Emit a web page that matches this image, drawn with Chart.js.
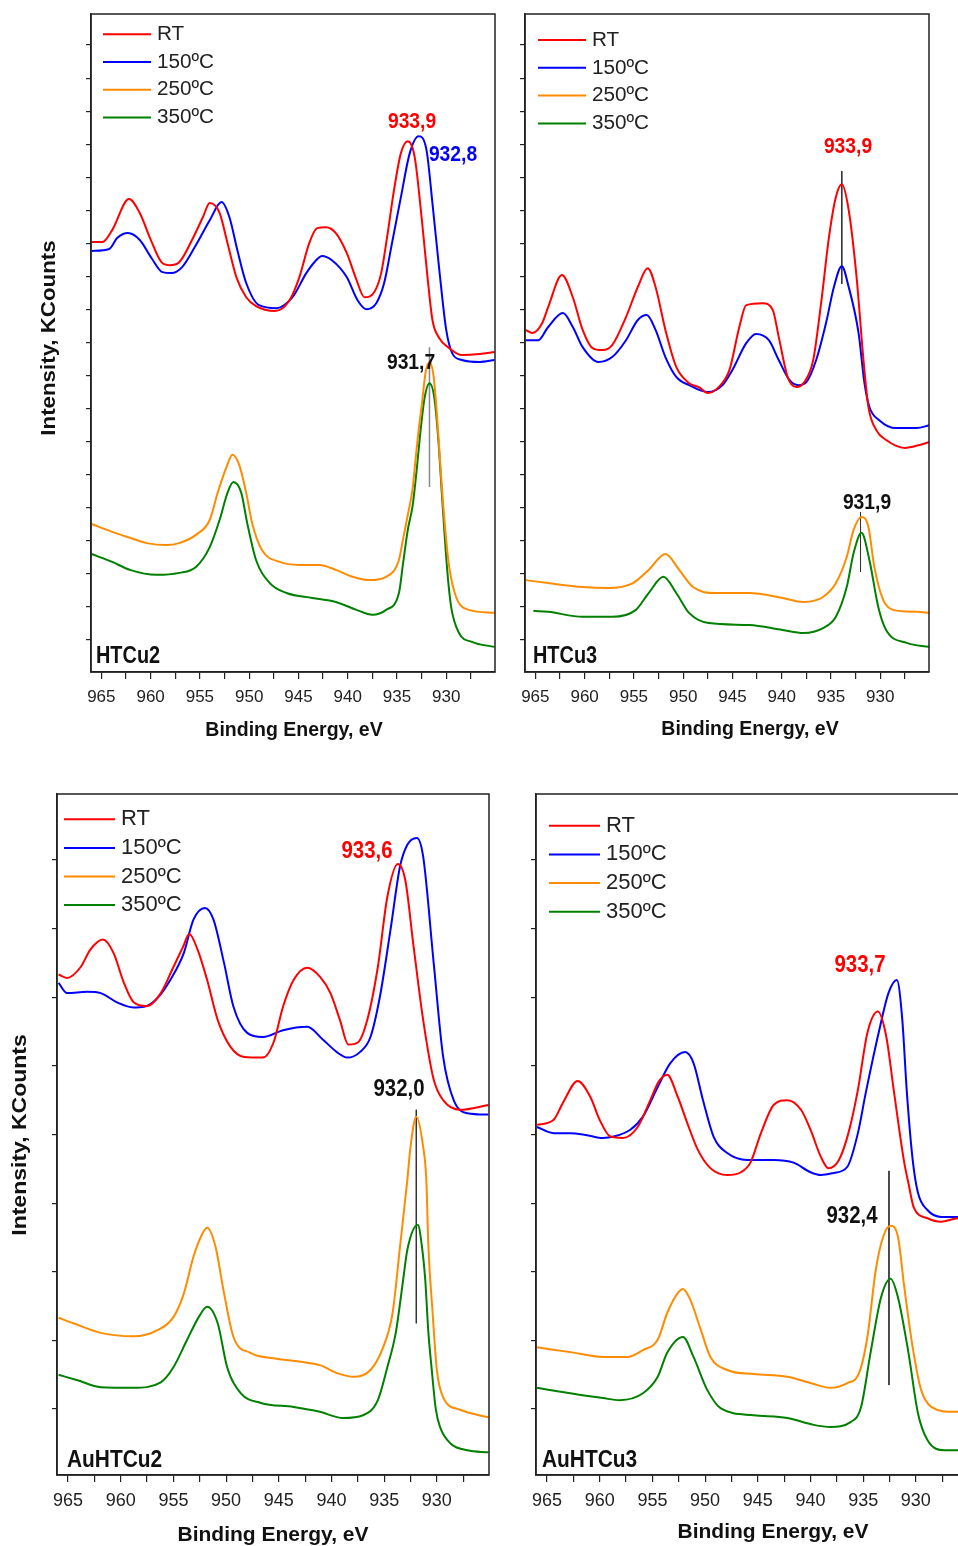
<!DOCTYPE html>
<html>
<head>
<meta charset="utf-8">
<script src="https://cdn.jsdelivr.net/npm/chart.js@4.4.1/dist/chart.umd.min.js"></script>
<style>
  html, body { margin: 0; padding: 0; background: #fff; overflow: hidden; width: 958px; height: 1546px; }
  canvas { position: absolute; }
</style>
</head>
<body>
<canvas id="htcu2" width="500" height="760" style="left:0;top:0"></canvas>
<canvas id="htcu3" width="454" height="760" style="left:480px;top:0"></canvas>
<canvas id="auhtcu2" width="494" height="766" style="left:0;top:780px"></canvas>
<canvas id="auhtcu3" width="482" height="766" style="left:491px;top:780px"></canvas>
<script>
/* =========================
   DATA  [binding energy eV, intensity a.u.]
 ========================= */
const SERIES_LABELS = ['RT', '150ºC', '250ºC', '350ºC'];
const SERIES_COLORS = ['#ff0000', '#0000ff', '#ff8c00', '#008000'];
const E_MIN = 925.05;
const E_MAX = 966.05;

// HTCu2
const htcu2RT = [[966.0,12.04],[964.9,12.04],[963.9,12.40],[962.2,13.34],[961.1,12.92],[960.1,12.19],[958.9,11.43],[958.1,11.34],[957.1,11.43],[955.8,12.10],[954.7,12.79],[954.0,13.22],[953.0,12.92],[952.2,12.01],[951.3,10.98],[950.3,10.37],[949.3,10.10],[947.4,9.95],[945.9,10.28],[944.9,10.98],[943.9,12.01],[943.1,12.46],[942.2,12.49],[941.2,12.31],[940.1,11.71],[939.1,10.89],[938.3,10.37],[937.3,10.53],[936.6,11.10],[936.0,12.19],[935.3,13.61],[934.6,14.73],[933.9,15.09],[933.2,14.61],[932.5,12.79],[931.9,10.98],[931.4,9.68],[930.7,9.13],[929.7,8.83],[928.4,8.62],[926.6,8.65],[925.1,8.71]];
const htcu2C150 = [[966.0,11.77],[964.2,11.83],[963.4,12.16],[962.3,12.31],[961.1,12.10],[959.9,11.55],[958.8,11.13],[957.9,11.10],[956.8,11.28],[955.4,11.95],[954.0,12.70],[952.8,13.25],[952.0,12.79],[951.2,11.80],[950.3,10.80],[949.0,10.13],[947.2,10.04],[945.6,10.37],[944.2,11.10],[943.2,11.49],[942.6,11.62],[941.6,11.49],[940.1,10.98],[939.0,10.28],[938.1,10.01],[937.1,10.19],[936.3,10.80],[935.5,12.01],[934.6,13.40],[933.7,14.73],[932.8,15.24],[932.0,14.82],[931.4,13.22],[930.7,11.19],[930.0,9.38],[929.4,8.68],[928.4,8.47],[926.6,8.41],[925.1,8.47]];
const htcu2C250 = [[966.0,3.51],[963.9,3.27],[962.1,3.09],[960.4,2.93],[958.4,2.87],[957.1,2.93],[955.4,3.18],[954.0,3.63],[953.2,4.45],[952.3,5.23],[951.7,5.60],[951.0,5.29],[950.3,4.45],[949.7,3.54],[948.7,2.72],[946.9,2.36],[944.9,2.27],[942.9,2.27],[941.2,2.12],[939.5,1.91],[937.8,1.81],[936.1,1.91],[934.8,2.42],[934.4,3.02],[933.9,3.78],[933.4,4.60],[933.2,5.20],[932.8,6.35],[932.5,7.05],[932.1,8.08],[931.7,8.41],[931.3,8.02],[931.0,7.05],[930.7,5.75],[930.4,4.45],[930.0,3.02],[929.7,2.21],[929.0,1.30],[927.7,0.91],[925.1,0.82]];
const htcu2C350 = [[966.0,2.60],[963.9,2.36],[962.1,2.12],[959.4,1.97],[957.1,2.03],[955.4,2.21],[954.0,2.81],[953.0,3.63],[952.2,4.45],[951.6,4.78],[950.8,4.45],[950.2,3.54],[949.3,2.42],[947.9,1.72],[946.2,1.42],[943.6,1.27],[941.2,1.15],[939.1,0.91],[937.5,0.76],[936.1,0.91],[934.8,1.42],[934.4,2.27],[933.9,3.33],[933.4,4.08],[933.0,5.14],[932.6,6.35],[932.2,7.32],[931.7,7.77],[931.2,7.32],[930.8,6.05],[930.4,4.23],[929.9,2.12],[929.5,1.00],[928.7,0.21],[927.4,-0.06],[925.1,-0.21]];
const htcu2Marks = [[[931.7, 8.86], [931.7, 4.63]]];
const htcu2Notes = [['933,9', 933.47, 15.67, '#ff0000'], ['932,8', 929.31, 14.67, '#0000ff'], ['931,7', 933.57, 8.38, '#111']];

// HTCu3
const htcu3RT = [[966.0,9.38],[965.3,9.29],[964.3,9.59],[963.7,10.07],[962.3,11.04],[961.2,10.37],[960.2,9.38],[959.2,8.83],[958.2,8.77],[957.2,8.92],[955.8,9.77],[954.6,10.68],[953.6,11.25],[952.8,10.68],[951.8,9.38],[950.7,8.26],[949.4,7.77],[948.4,7.65],[947.5,7.47],[946.4,7.65],[945.3,8.17],[944.3,9.47],[943.6,10.13],[941.9,10.19],[940.9,9.98],[940.3,9.17],[939.4,7.96],[938.5,7.65],[937.7,7.80],[936.8,8.47],[936.0,10.19],[935.2,12.19],[934.5,13.40],[933.9,13.79],[933.2,13.01],[932.4,10.98],[931.7,8.47],[931.2,7.05],[930.4,6.35],[929.4,6.05],[927.5,5.81],[926.0,5.90],[925.0,5.99]];
const htcu3C150 = [[966.0,9.07],[964.7,9.07],[963.7,9.47],[962.2,9.89],[961.2,9.47],[960.2,8.86],[958.6,8.41],[957.2,8.56],[955.8,9.07],[954.6,9.68],[953.7,9.83],[952.8,9.38],[951.8,8.56],[950.7,7.96],[949.4,7.71],[947.5,7.50],[946.0,7.71],[945.0,8.17],[943.6,8.98],[942.6,9.26],[941.3,9.07],[940.3,8.47],[939.2,7.86],[938.3,7.71],[937.5,7.80],[936.5,8.47],[935.5,9.59],[934.7,10.68],[933.9,11.31],[933.2,10.68],[932.2,9.29],[931.6,7.77],[931.1,7.05],[930.1,6.65],[928.4,6.41],[926.3,6.41],[925.0,6.50]];
const htcu3C250 = [[966.0,1.81],[963.7,1.72],[960.2,1.60],[957.6,1.57],[955.1,1.72],[953.5,2.12],[951.8,2.60],[950.4,2.12],[949.0,1.60],[946.7,1.42],[943.3,1.42],[939.9,1.27],[937.8,1.15],[935.8,1.30],[934.5,1.72],[933.4,2.51],[932.7,3.33],[931.9,3.72],[931.2,3.42],[930.6,2.21],[929.7,1.21],[928.7,0.91],[926.3,0.85],[925.0,0.82]];
const htcu3C350 = [[965.2,0.88],[963.7,0.85],[960.2,0.70],[957.2,0.70],[954.8,0.91],[953.5,1.42],[952.0,1.91],[950.7,1.42],[949.4,0.82],[947.4,0.51],[943.3,0.45],[939.9,0.30],[937.8,0.21],[935.8,0.36],[934.5,0.70],[933.4,1.60],[932.7,2.63],[931.9,3.24],[931.1,2.42],[930.2,1.00],[929.4,0.30],[927.3,-0.09],[925.0,-0.21]];
const htcu3Marks = [[[933.9, 14.19], [933.9, 10.77]], [[932.0, 3.87], [932.0, 2.06]]];
const htcu3Notes = [['933,9', 933.27, 14.91, '#ff0000'], ['931,9', 931.34, 4.14, '#111']];

// AuHTCu2
const auhtcu2RT = [[965.9,6.33],[965.1,6.28],[963.8,6.44],[962.9,6.69],[961.7,6.84],[960.7,6.65],[959.7,6.21],[958.8,5.93],[957.5,5.87],[956.2,6.06],[955.0,6.44],[954.1,6.73],[953.5,6.92],[952.7,6.69],[951.8,6.25],[950.8,5.67],[949.6,5.28],[948.3,5.13],[946.5,5.12],[945.5,5.34],[944.6,5.86],[943.6,6.25],[942.3,6.43],[941.1,6.30],[940.1,6.06],[939.2,5.67],[938.4,5.31],[937.5,5.34],[936.6,5.67],[935.6,6.44],[934.7,7.46],[933.7,7.94],[933.0,7.71],[932.2,6.73],[931.3,5.67],[930.3,4.80],[929.4,4.50],[927.8,4.36],[925.1,4.43]];
const auhtcu2C150 = [[965.9,6.21],[965.1,6.06],[963.2,6.08],[961.9,6.06],[960.3,5.92],[958.8,5.85],[957.8,5.86],[956.5,5.99],[955.3,6.25],[954.0,6.65],[953.1,7.13],[952.0,7.30],[951.2,7.13],[950.2,6.50],[949.3,5.86],[948.0,5.48],[946.5,5.42],[944.6,5.52],[942.3,5.57],[940.8,5.38],[939.4,5.19],[938.5,5.12],[937.3,5.20],[936.3,5.42],[935.4,6.01],[934.4,6.98],[933.5,7.90],[932.8,8.22],[931.9,8.32],[931.3,8.05],[930.3,6.50],[929.4,5.13],[928.4,4.50],[927.1,4.31],[925.1,4.29]];
const auhtcu2C250 = [[965.9,1.33],[964.5,1.25],[961.9,1.11],[958.8,1.06],[956.5,1.15],[955.0,1.34],[954.0,1.69],[953.1,2.22],[952.3,2.54],[951.8,2.64],[951.0,2.36],[950.2,1.69],[949.3,1.05],[947.7,0.82],[945.5,0.74],[942.9,0.69],[941.1,0.64],[939.4,0.52],[937.9,0.47],[936.3,0.57],[935.1,0.90],[934.2,1.40],[933.5,2.36],[932.8,3.34],[932.5,3.82],[931.95,4.26],[931.3,3.82],[931.0,3.34],[930.8,2.36],[930.4,1.40],[930.0,0.57],[929.4,0.17],[927.8,-0.01],[925.1,-0.12]];
const auhtcu2C350 = [[965.9,0.50],[964.1,0.42],[961.9,0.32],[958.8,0.31],[956.2,0.39],[955.0,0.61],[953.7,1.01],[952.6,1.34],[951.8,1.49],[950.8,1.25],[949.9,0.61],[948.6,0.23],[946.7,0.09],[943.6,0.03],[941.1,-0.04],[938.9,-0.13],[937.0,-0.09],[935.6,0.13],[934.7,0.61],[933.9,1.11],[933.2,1.88],[932.8,2.32],[931.8,2.68],[931.4,2.35],[931.1,1.88],[930.8,1.11],[930.5,0.60],[930.1,0.00],[929.7,-0.26],[928.7,-0.50],[927.1,-0.60],[925.1,-0.63]];
const auhtcu2Marks = [[[931.95, 4.36], [931.95, 1.25]]];
const auhtcu2Notes = [['933,6', 936.63, 8.13, '#ff0000'], ['932,0', 933.59, 4.65, '#111']];

// AuHTCu3
const auhtcu3RT = [[965.95,4.14],[964.4,4.21],[963.5,4.46],[962.1,4.78],[960.9,4.55],[960.0,4.21],[959.0,3.97],[957.8,3.95],[956.4,4.11],[955.2,4.50],[954.4,4.77],[953.6,4.87],[952.6,4.55],[951.7,4.17],[950.7,3.78],[949.5,3.51],[947.9,3.41],[946.6,3.45],[945.7,3.59],[944.7,4.02],[943.5,4.43],[942.2,4.50],[940.9,4.36],[940.0,4.07],[939.0,3.67],[938.3,3.51],[937.3,3.63],[936.4,4.02],[935.5,4.65],[934.6,5.48],[933.6,5.79],[932.8,5.42],[932.1,4.65],[931.1,3.59],[930.7,3.29],[930.2,2.94],[928.9,2.78],[927.6,2.73],[926.0,2.78],[925.05,2.76]];
const auhtcu3C150 = [[965.95,4.11],[964.4,4.02],[962.8,4.02],[961.2,3.99],[959.7,3.95],[958.7,3.97],[957.1,4.07],[955.9,4.26],[954.5,4.69],[953.3,5.04],[951.9,5.20],[951.1,5.04],[950.2,4.50],[949.2,3.97],[947.9,3.73],[946.0,3.63],[943.5,3.63],[941.6,3.59],[940.0,3.45],[939.0,3.41],[937.8,3.44],[936.5,3.53],[935.5,4.02],[934.75,4.61],[933.4,5.57],[932.6,6.06],[931.8,6.25],[931.3,5.70],[930.85,4.61],[930.3,3.63],[929.8,3.15],[928.9,2.90],[927.6,2.80],[926.0,2.80],[925.05,2.78]];
const auhtcu3C250 = [[965.95,0.90],[962.8,0.83],[959.7,0.76],[957.4,0.76],[955.9,0.86],[954.5,1.01],[953.6,1.40],[952.6,1.69],[952.1,1.75],[951.4,1.59],[950.4,1.15],[949.5,0.76],[947.9,0.57],[945.4,0.51],[942.2,0.47],[940.0,0.38],[938.1,0.31],[936.5,0.38],[935.4,0.52],[934.6,1.05],[933.8,2.03],[933.1,2.51],[932.4,2.67],[931.7,2.51],[931.1,1.78],[930.3,0.90],[929.5,0.28],[928.5,0.03],[926.4,-0.04],[925.05,-0.04]];
const auhtcu3C350 = [[965.95,0.31],[962.8,0.23],[959.7,0.16],[958.1,0.13],[955.9,0.23],[954.5,0.47],[953.6,0.82],[952.1,1.05],[951.1,0.76],[949.8,0.28],[948.5,0.01],[945.4,-0.09],[942.2,-0.13],[939.7,-0.23],[938.1,-0.26],[936.2,-0.19],[935.2,0.03],[934.3,0.82],[933.3,1.63],[932.4,1.90],[931.7,1.63],[930.7,0.82],[929.8,-0.06],[928.9,-0.45],[927.3,-0.60],[926.0,-0.60],[925.05,-0.60]];
const auhtcu3Marks = [[[932.55, 3.47], [932.55, 0.35]]];
const auhtcu3Notes = [['933,7', 935.3, 6.47, '#ff0000'], ['932,4', 936.06, 2.81, '#111']];

/* =========================
   HELPERS
 ========================= */
const FONT = '"Liberation Sans", Arial, sans-serif';

// the figure text is slightly tall/narrow, so stretch it
function drawText(ctx, text, x, y, font, color, align, stretch, rotated) {
  ctx.save();
  ctx.translate(x, y);
  if (rotated) {
    ctx.rotate(-Math.PI / 2);
    ctx.scale(stretch, 1);
  } else {
    ctx.scale(1, stretch);
  }
  ctx.font = font;
  ctx.fillStyle = color;
  ctx.textAlign = align;
  ctx.textBaseline = 'middle';
  ctx.fillText(text, 0, 0);
  ctx.restore();
}

const panelDecor = {
  id: 'panelDecor',
  afterDraw(chart, args, o) {
    const { ctx, chartArea: a } = chart;
    const xs = chart.scales.x;
    const ys = chart.scales.y;

    ctx.save();
    ctx.strokeStyle = '#222';
    ctx.lineWidth = 1.5;
    ctx.strokeRect(a.left, a.top, a.right - a.left, a.bottom - a.top);

    // legend
    chart.data.datasets.forEach((ds, i) => {
      if (!ds.inLegend) return;
      const ly = a.top + o.legend.y0 + i * o.legend.dy;
      ctx.strokeStyle = ds.borderColor;
      ctx.lineWidth = 2;
      ctx.beginPath();
      ctx.moveTo(a.left + o.legend.x0, ly);
      ctx.lineTo(a.left + o.legend.x1, ly);
      ctx.stroke();
      drawText(ctx, ds.label, a.left + o.legend.tx, ly, o.legend.size + 'px ' + FONT, '#222', 'left', 1);
    });

    // peak labels
    o.notes.forEach(([text, e, v, color]) => {
      drawText(ctx, text, xs.getPixelForValue(e), ys.getPixelForValue(v),
        'bold ' + o.noteSize + 'px ' + FONT, color, 'center', 1.17);
    });

    drawText(ctx, o.name, a.left + o.nameDx, a.bottom - 15, 'bold ' + o.nameSize + 'px ' + FONT, '#111', 'left', 1.17);
    drawText(ctx, 'Binding Energy, eV', a.left + o.xTitle.dx, a.bottom + o.xTitle.dy,
      'bold ' + o.xTitle.size + 'px ' + FONT, '#111', 'center', 1);
    if (o.yTitle) {
      drawText(ctx, 'Intensity, KCounts', a.left + o.yTitle.dx, a.top + o.yTitle.dy,
        'bold ' + o.yTitle.size + 'px ' + FONT, '#111', 'center', 1.15, true);
    }
    ctx.restore();
  }
};

function buildChart(id, p) {
  const datasets = p.series.map((s, i) => ({
    label: SERIES_LABELS[i],
    data: s.map(([x, y]) => ({ x, y })),
    borderColor: SERIES_COLORS[i],
    borderWidth: 2,
    pointRadius: 0,
    cubicInterpolationMode: 'monotone',
    inLegend: true
  }));
  p.marks.forEach(m => datasets.push({
    label: 'mark',
    data: m.map(([x, y]) => ({ x, y })),
    borderColor: p.markColor,
    borderWidth: p.markWidth,
    pointRadius: 0,
    inLegend: false
  }));

  const axisGrid = len => ({ drawOnChartArea: false, drawTicks: true, tickLength: len, color: '#222', lineWidth: 1.2 });
  const axisBorder = { display: true, color: '#222', width: 1.5 };

  return new Chart(document.getElementById(id), {
    type: 'line',
    data: { datasets },
    options: {
      responsive: false,
      animation: false,
      devicePixelRatio: 1,
      layout: { padding: { top: 14, right: 5, left: 0, bottom: 0 } },
      plugins: {
        legend: { display: false },
        tooltip: { enabled: false },
        panelDecor: p.decor
      },
      scales: {
        x: {
          type: 'linear',
          reverse: true,
          min: E_MIN,
          max: E_MAX,
          afterFit: s => { s.height = p.xAxisH; },
          ticks: {
            stepSize: 2.5,
            includeBounds: false,
            autoSkip: false,
            maxRotation: 0,
            padding: 8,
            color: '#222',
            font: { family: FONT, size: p.tickSize },
            callback: v => (Math.abs(v % 5) < 1e-6 ? String(v) : '')
          },
          grid: axisGrid(7),
          border: axisBorder
        },
        y: {
          type: 'linear',
          min: p.yMin,
          max: p.yMax,
          afterFit: s => { s.width = p.yAxisW; },
          ticks: { stepSize: 1, includeBounds: false, callback: () => '' },
          grid: axisGrid(5),
          border: axisBorder
        }
      }
    },
    plugins: [panelDecor]
  });
}

/* =========================
   PANELS
 ========================= */
buildChart('htcu2', {
  series: [htcu2RT, htcu2C150, htcu2C250, htcu2C350],
  marks: htcu2Marks, markColor: '#888', markWidth: 1.5,
  yMin: -0.97, yMax: 18.94, yAxisW: 91, xAxisH: 88, tickSize: 17,
  decor: {
    legend: { x0: 12, x1: 60, tx: 66, y0: 20.3, dy: 27.7, size: 20.7 },
    notes: htcu2Notes, noteSize: 19.3,
    name: 'HTCu2', nameDx: 5, nameSize: 19.9,
    xTitle: { dx: 203, dy: 59, size: 19.5 },
    yTitle: { dx: -41, dy: 324, size: 19.4 }
  }
});

buildChart('htcu3', {
  series: [htcu3RT, htcu3C150, htcu3C250, htcu3C350],
  marks: htcu3Marks, markColor: '#333', markWidth: 1,
  yMin: -0.97, yMax: 18.94, yAxisW: 45, xAxisH: 88, tickSize: 17,
  decor: {
    legend: { x0: 13, x1: 61, tx: 67, y0: 26, dy: 27.8, size: 20.7 },
    notes: htcu3Notes, noteSize: 19.3,
    name: 'HTCu3', nameDx: 8, nameSize: 19.9,
    xTitle: { dx: 225, dy: 58, size: 19.5 }
  }
});

buildChart('auhtcu2', {
  series: [auhtcu2RT, auhtcu2C150, auhtcu2C250, auhtcu2C350],
  marks: auhtcu2Marks, markColor: '#333', markWidth: 1,
  yMin: -0.96, yMax: 8.96, yAxisW: 57, xAxisH: 71, tickSize: 18,
  decor: {
    legend: { x0: 7, x1: 58, tx: 64, y0: 25.3, dy: 28.6, size: 22 },
    notes: auhtcu2Notes, noteSize: 20.4,
    name: 'AuHTCu2', nameDx: 10, nameSize: 20.9,
    xTitle: { dx: 216, dy: 60, size: 21 },
    yTitle: { dx: -37, dy: 341, size: 20 }
  }
});

buildChart('auhtcu3', {
  series: [auhtcu3RT, auhtcu3C150, auhtcu3C250, auhtcu3C350],
  marks: auhtcu3Marks, markColor: '#333', markWidth: 1,
  yMin: -0.96, yMax: 8.96, yAxisW: 45, xAxisH: 71, tickSize: 18,
  decor: {
    legend: { x0: 13, x1: 64, tx: 70, y0: 31.7, dy: 28.7, size: 22 },
    notes: auhtcu3Notes, noteSize: 20.4,
    name: 'AuHTCu3', nameDx: 6, nameSize: 20.9,
    xTitle: { dx: 237, dy: 57, size: 21 }
  }
});
</script>
</body>
</html>
